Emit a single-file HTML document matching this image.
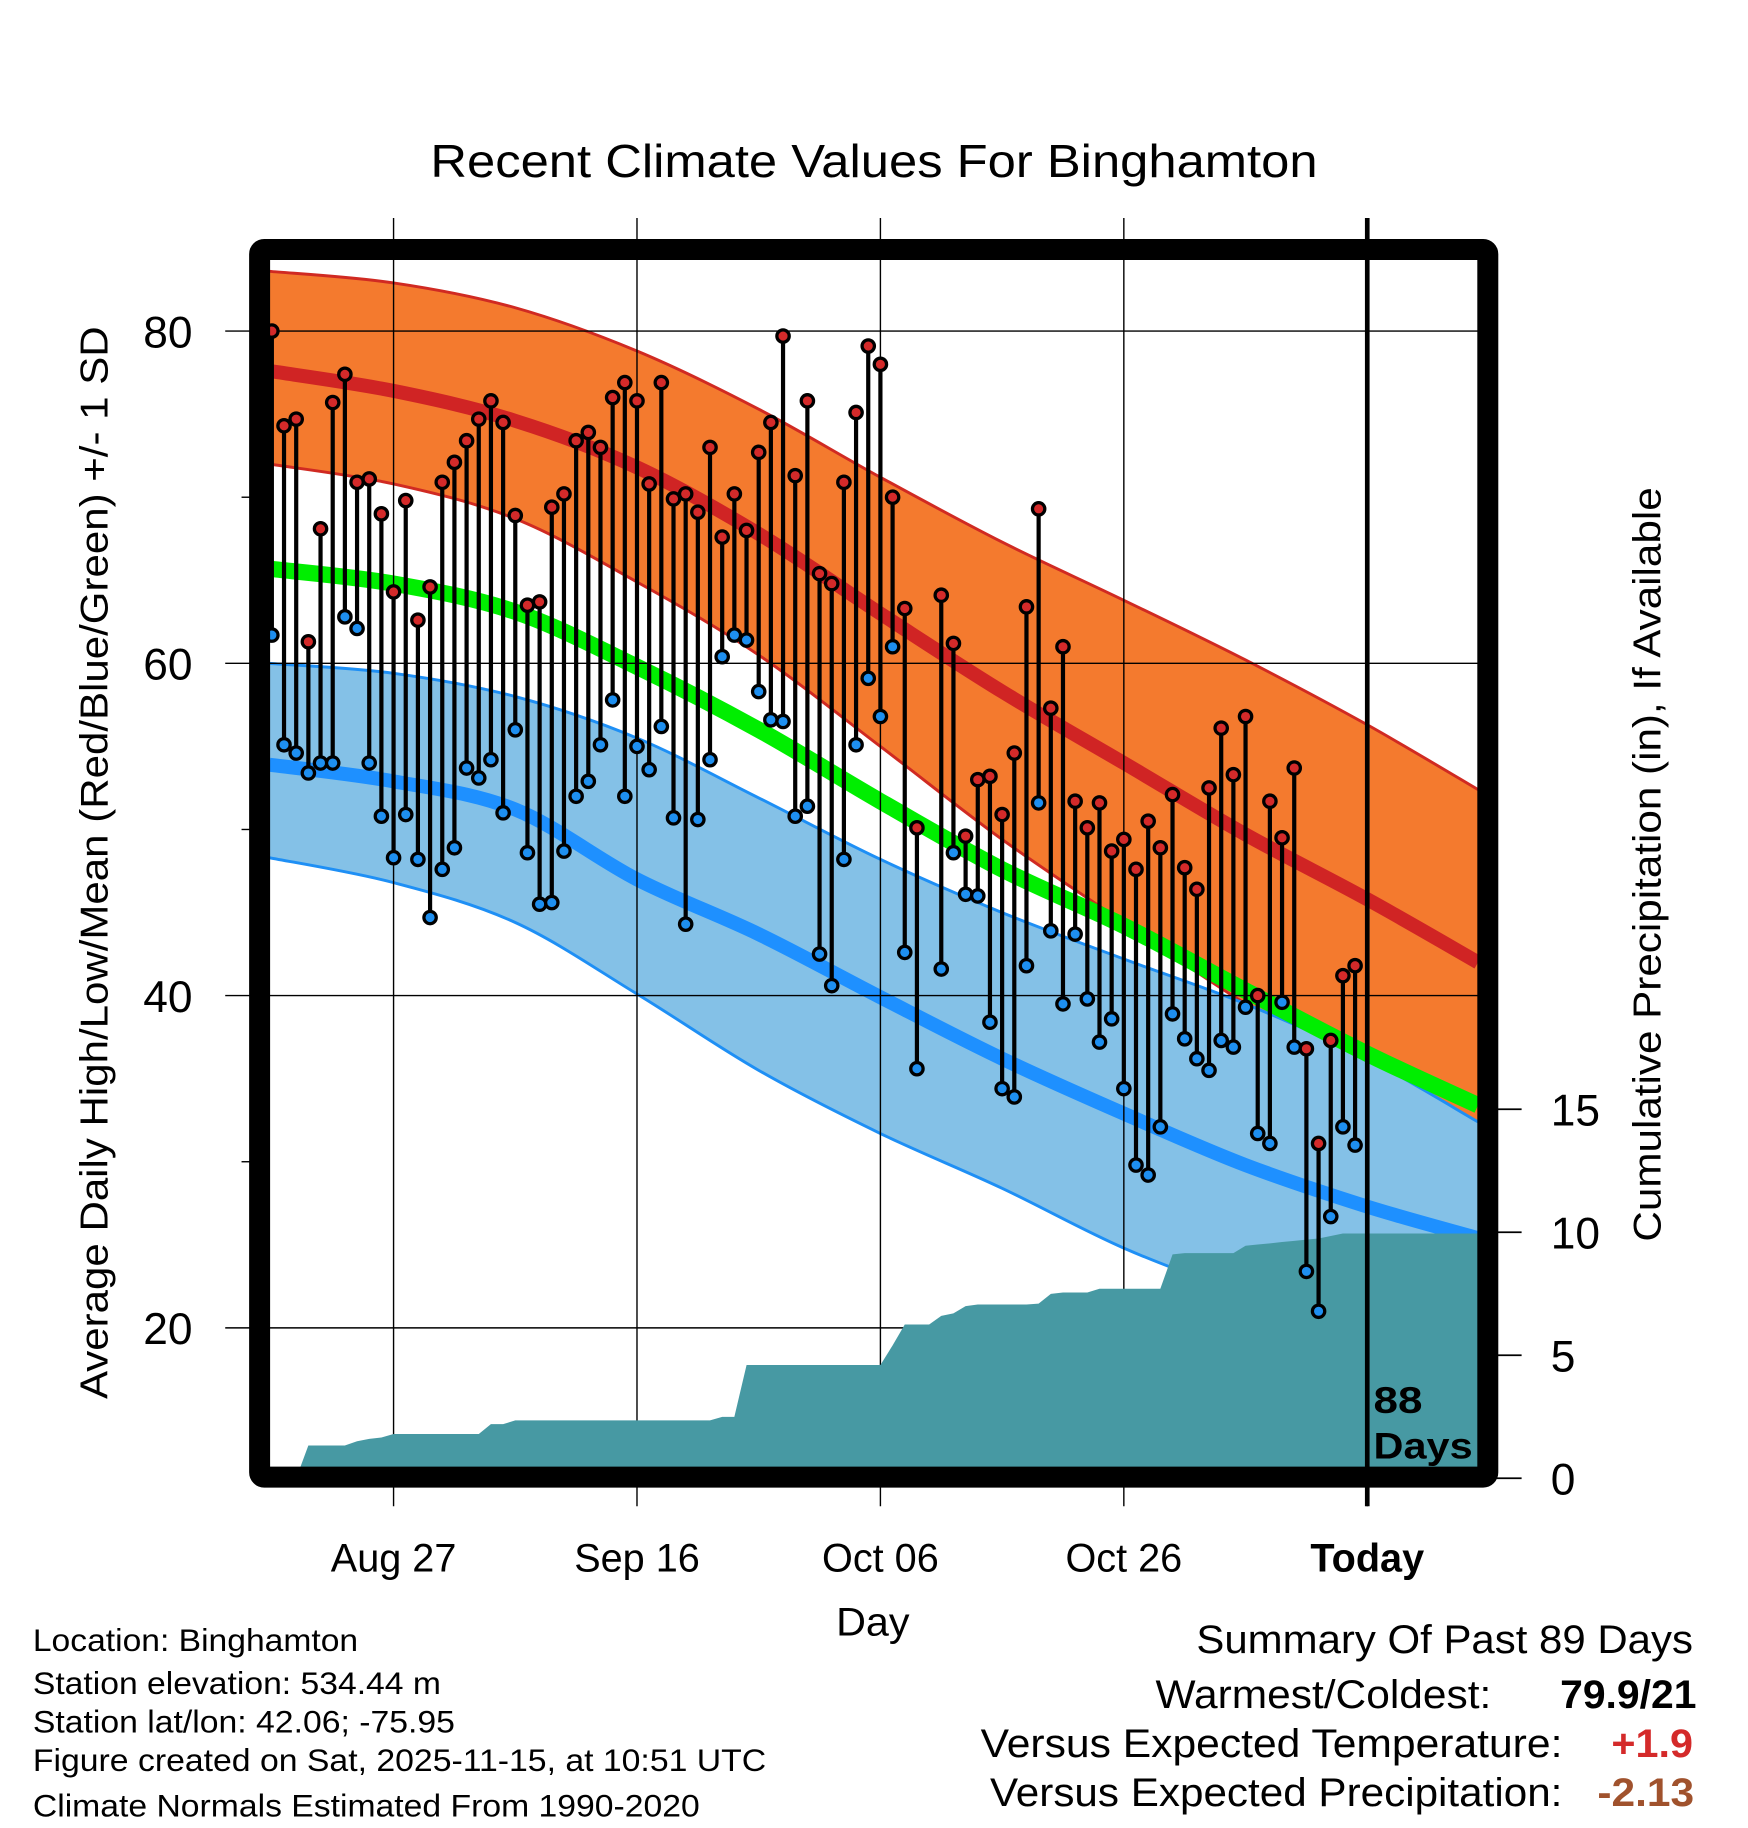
<!DOCTYPE html>
<html><head><meta charset="utf-8"><title>Recent Climate Values For Binghamton</title>
<style>html,body{margin:0;padding:0;background:#fff}svg{display:block}text{font-family:"Liberation Sans",Arial,sans-serif;fill:#000}</style></head>
<body>
<svg id="chart" xmlns="http://www.w3.org/2000/svg" width="1748" height="1828" viewBox="0 0 1499 1568">
<rect x="0" y="0" width="1499" height="1568" fill="#fff"/>
<text x="369" y="152" font-size="40" textLength="761" lengthAdjust="spacingAndGlyphs">Recent Climate Values For Binghamton</text>
<g id="plot"></g>
<text transform="translate(92,1200) rotate(-90)" font-size="33" textLength="920" lengthAdjust="spacingAndGlyphs">Average Daily High/Low/Mean (Red/Blue/Green) +/- 1 SD</text>
<text transform="translate(1424,1065) rotate(-90)" font-size="33" textLength="647" lengthAdjust="spacingAndGlyphs">Cumulative Precipitation (in), If Available</text>
<text x="717" y="1403" font-size="34" textLength="63" lengthAdjust="spacingAndGlyphs">Day</text>
<g font-size="27">
<text x="28" y="1416" textLength="279" lengthAdjust="spacingAndGlyphs">Location: Binghamton</text>
<text x="28" y="1453" textLength="350" lengthAdjust="spacingAndGlyphs">Station elevation: 534.44 m</text>
<text x="28" y="1486" textLength="362" lengthAdjust="spacingAndGlyphs">Station lat/lon: 42.06; -75.95</text>
<text x="28" y="1519" textLength="629" lengthAdjust="spacingAndGlyphs">Figure created on Sat, 2025-11-15, at 10:51 UTC</text>
<text x="28" y="1558" textLength="572" lengthAdjust="spacingAndGlyphs">Climate Normals Estimated From 1990-2020</text>
</g>
<g font-size="34">
<text x="1026" y="1418" textLength="426" lengthAdjust="spacingAndGlyphs">Summary Of Past 89 Days</text>
<text x="991" y="1465" textLength="288" lengthAdjust="spacingAndGlyphs">Warmest/Coldest:</text>
<text x="1338" y="1465" font-weight="bold" textLength="117" lengthAdjust="spacingAndGlyphs">79.9/21</text>
<text x="841" y="1507" textLength="499" lengthAdjust="spacingAndGlyphs">Versus Expected Temperature:</text>
<text x="1382" y="1507" font-weight="bold" style="fill:#d42a2a" textLength="70" lengthAdjust="spacingAndGlyphs">+1.9</text>
<text x="849" y="1549" textLength="491" lengthAdjust="spacingAndGlyphs">Versus Expected Precipitation:</text>
<text x="1370" y="1549" font-weight="bold" style="fill:#a0522d" textLength="83" lengthAdjust="spacingAndGlyphs">-2.13</text>
</g>
</svg>
<script>
// ---- data ----
const highs = [80,74.3,74.7,61.3,68.1,75.7,77.4,70.9,71.1,69,64.3,69.8,62.6,64.6,70.9,72.1,73.4,74.7,75.8,74.5,68.9,63.5,63.7,69.4,70.2,73.4,73.9,73,76,76.9,75.8,70.8,76.9,69.9,70.2,69.1,73,67.6,70.2,68,72.7,74.5,79.7,71.3,75.8,65.4,64.8,70.9,75.1,79.1,78,70,63.3,50.1,null,64.1,61.2,49.6,53,53.2,50.9,54.6,63.4,69.3,57.3,61,51.7,50.1,51.6,48.7,49.4,47.6,50.5,48.9,52.1,47.7,46.4,52.5,56.1,53.3,56.8,40,51.7,49.5,53.7,36.8,31.1,37.3,41.2,41.8];
const lows = [61.7,55.1,54.6,53.4,54,54,62.8,62.1,54,50.8,48.3,50.9,48.2,44.7,47.6,48.9,53.7,53.1,54.2,51,56,48.6,45.5,45.6,48.7,52,52.9,55.1,57.8,52,55,53.6,56.2,50.7,44.3,50.6,54.2,60.4,61.7,61.4,58.3,56.6,56.5,50.8,51.4,42.5,40.6,48.2,55.1,59.1,56.8,61,42.6,35.6,null,41.6,48.6,46.1,46,38.4,34.4,33.9,41.8,51.6,43.9,39.5,43.7,39.8,37.2,38.6,34.4,29.8,29.2,32.1,38.9,37.4,36.2,35.5,37.3,36.9,39.3,31.7,31.1,39.6,36.9,23.4,21,26.7,32.1,31];
const precip = [0,0,0,1.33,1.33,1.33,1.33,1.5,1.6,1.66,1.8,1.8,1.8,1.8,1.8,1.8,1.8,1.8,2.2,2.2,2.35,2.35,2.35,2.35,2.35,2.35,2.35,2.35,2.35,2.35,2.35,2.35,2.35,2.35,2.35,2.35,2.35,2.5,2.5,4.6,4.6,4.6,4.6,4.6,4.6,4.6,4.6,4.6,4.6,4.6,4.6,5.4,6.25,6.25,6.25,6.6,6.7,7.0,7.06,7.06,7.06,7.06,7.06,7.1,7.5,7.55,7.55,7.55,7.7,7.7,7.7,7.7,7.7,7.7,9.1,9.15,9.15,9.15,9.15,9.15,9.45,9.5,9.55,9.6,9.65,9.7,9.75,9.85,9.95,9.95];
const normDays = [-0.2,10,20,30,40,50,60,70,80,90,99.1];
const normHigh = [77.6,76.4,74.6,71.8,67.8,63.0,58.3,54.0,49.7,45.8,42.0];
const normHighUp = [83.6,82.9,81.4,78.8,75.3,71.2,67.3,63.8,60.2,56.3,52.4];
const normHighDn = [72.0,70.8,68.7,64.9,60.5,55.0,49.4,44.4,39.5,35.3,32.4];
const normLow = [53.9,52.9,51.2,47.0,43.7,39.9,36.2,32.9,29.8,27.3,25.4];
const normLowUp = [60.0,59.4,58.0,55.5,51.9,48.2,45.0,42.2,39.5,36.2,32.4];
const normLowDn = [48.3,46.8,44.4,40.1,35.5,31.7,28.4,24.8,22.0,19.5,17.5];
const normMean = [65.7,64.8,63.1,59.8,56.0,51.7,47.6,44.2,40.3,36.5,33.4];
const yTicks = [20,40,60,80];
const yMinor = [30,50,70];
const y2Ticks = [0,5,10,15];
const xTickDays = [10,30,50,70,90];
const xTickLabels = ["Aug 27","Sep 16","Oct 06","Oct 26","Today"];
const todayIndex = 90;

// ---- scales ----
const L=231,R=1268,T=222,B=1260;
function xs(i){return 233+i*10.44;}
function ys(v){return 284+(80-v)*14.25;}
function yp(v){return 1268-v*21.1;}

const NS="http://www.w3.org/2000/svg";
const plot=document.getElementById('plot');
function mk(tag,attrs,parent){const e=document.createElementNS(NS,tag);for(const k in attrs)e.setAttribute(k,attrs[k]);(parent||plot).appendChild(e);return e;}

const clip=mk('clipPath',{id:'pc'});
mk('rect',{x:L,y:T,width:R-L,height:B-T},clip);
const g=mk('g',{'clip-path':'url(#pc)'});



function pts(arr){return normDays.map((d,k)=>[xs(d),ys(arr[k])]);}
function smooth(p,move){
  let d=(move?'M':'L')+p[0][0].toFixed(1)+','+p[0][1].toFixed(1);
  for(let i=0;i<p.length-1;i++){
    const p0=p[Math.max(0,i-1)],p1=p[i],p2=p[i+1],p3=p[Math.min(p.length-1,i+2)];
    const c1x=p1[0]+(p2[0]-p0[0])/6,c1y=p1[1]+(p2[1]-p0[1])/6;
    const c2x=p2[0]-(p3[0]-p1[0])/6,c2y=p2[1]-(p3[1]-p1[1])/6;
    d+=' C'+c1x.toFixed(1)+','+c1y.toFixed(1)+' '+c2x.toFixed(1)+','+c2y.toFixed(1)+' '+p2[0].toFixed(1)+','+p2[1].toFixed(1);
  }
  return d;
}
function band(up,dn,fill,edge,name){
  const d=smooth(pts(up),true)+' '+smooth(pts(dn).reverse(),false)+' Z';
  const p=mk('path',{d:d,fill:fill},g);
  
  
  const e1=mk('path',{d:smooth(pts(up),true),fill:'none',stroke:edge,'stroke-width':2.5},g);
  
  
  const e2=mk('path',{d:smooth(pts(dn),true),fill:'none',stroke:edge,'stroke-width':2.5},g);
  
  
}
function nline(arr,color,w,name){
  const p=mk('path',{d:smooth(pts(arr),true),fill:'none',stroke:color,'stroke-width':w},g);
  
  
}
band(normHighUp,normHighDn,'#f47a2e','#d02a22','high-sd-band');
nline(normHigh,'#d02424',12,'normal-high-line');
band(normLowUp,normLowDn,'#84c1e7','#1e8ff5','low-sd-band');
nline(normLow,'#1e90ff',12,'normal-low-line');
nline(normMean,'#00ee00',14,'normal-mean-line');

// grid
yTicks.forEach(v=>{
  const l=mk('line',{x1:193,x2:1283,y1:ys(v),y2:ys(v),stroke:'#000','stroke-width':1.2});
  
  
  const t=mk('text',{x:165,y:ys(v)+14,'font-size':38,'text-anchor':'end'});
  t.textContent=v;
  
  
});
yMinor.forEach(v=>{
  const l=mk('line',{x1:207,x2:216,y1:ys(v),y2:ys(v),stroke:'#000','stroke-width':1.2});
  
  
});
xTickDays.forEach((d,k)=>{
  const l=mk('line',{x1:xs(d),x2:xs(d),y1:187,y2:1292,stroke:'#000','stroke-width':1.2});
  
  
  const t=mk('text',{x:xs(d),y:1348,'font-size':34,'text-anchor':'middle','font-weight':k===4?'bold':'normal'});
  t.textContent=xTickLabels[k];
  
  
});
y2Ticks.forEach(v=>{
  const l=mk('line',{x1:1283,x2:1305,y1:yp(v),y2:yp(v),stroke:'#000','stroke-width':1.5});
  
  
  const t=mk('text',{x:1330,y:yp(v)+14,'font-size':38});
  t.textContent=v;
  
  
});

const g2=mk('g',{'clip-path':'url(#pc)'});



// precip area
let pp=[xs(0)+','+B];
precip.forEach((v,i)=>{pp.push(xs(i).toFixed(1)+','+yp(v).toFixed(1));});
pp.push(R+5+','+yp(precip[precip.length-1]).toFixed(1));
pp.push(R+5+','+B);
const pa=mk('polygon',{points:pp.join(' '),fill:'#4799a3'},g2);



// sticks and dots
highs.forEach((h,i)=>{
  if(h==null||lows[i]==null)return;
  const s=mk('line',{x1:xs(i),x2:xs(i),y1:ys(h),y2:ys(lows[i]),stroke:'#000','stroke-width':3.6},g2);
  
  
});
lows.forEach((v,i)=>{
  if(v==null)return;
  const c=mk('circle',{cx:xs(i),cy:ys(v),r:5.3,fill:'#1e8ff0',stroke:'#000','stroke-width':2.8},g2);
  
  
});
highs.forEach((v,i)=>{
  if(v==null)return;
  const c=mk('circle',{cx:xs(i),cy:ys(v),r:5.3,fill:'#d42a2a',stroke:'#000','stroke-width':2.8},g2);
  
  
});

// today line
const tl=mk('line',{x1:xs(todayIndex),x2:xs(todayIndex),y1:187,y2:1292,stroke:'#000','stroke-width':4});


const t88=mk('text',{x:1178,y:1212,'font-size':32,'font-weight':'bold',textLength:42,lengthAdjust:'spacingAndGlyphs'});
t88.textContent='88';


const tdays=mk('text',{x:1178,y:1251,'font-size':32,'font-weight':'bold',textLength:85,lengthAdjust:'spacingAndGlyphs'});
tdays.textContent='Days';



// frame
const fr=mk('rect',{x:222.5,y:214,width:1053.5,height:1053,rx:4,fill:'none',stroke:'#000','stroke-width':18});


</script>
</body></html>
